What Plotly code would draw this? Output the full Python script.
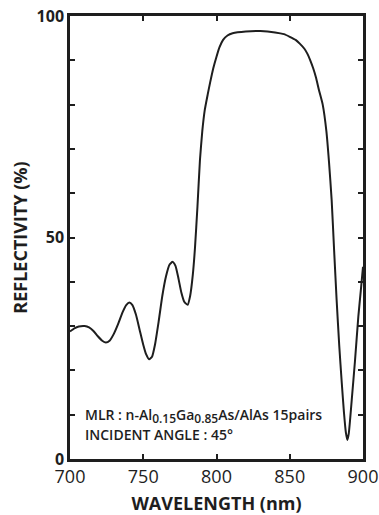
import plotly.graph_objects as go

wavelength_nm = [700, 703, 706, 710, 713, 716, 719, 722, 724.5, 727, 730, 733, 736, 738.5, 740.5,
                 742.5, 745, 747.5, 750, 752, 754, 756, 758, 760.5, 763, 765.5, 768, 770, 772,
                 774, 776, 778, 780.3, 782, 783.8, 785.3, 787, 788.7, 790.3, 792, 794, 795.6,
                 797.8, 800, 802, 804.5, 807.5, 811, 820, 830, 840, 846, 850, 854, 857, 860,
                 862, 864, 866, 868, 870, 872.5, 875, 876.8, 878.6, 880.3, 882, 883.8, 885.5,
                 887, 888.3, 889.3, 890.3, 891.3, 892.3, 894.5, 896.8, 898.5, 900]
reflectivity_pct = [28.8, 29.5, 29.9, 30.0, 29.7, 28.9, 27.7, 26.7, 26.3, 26.7, 28.3, 30.6, 33.2,
                    34.8, 35.3, 34.8, 32.6, 29.2, 25.8, 23.6, 22.5, 23.1, 25.8, 31.0, 36.8, 41.2,
                    43.9, 44.5, 43.6, 40.8, 37.6, 35.5, 34.8, 36.8, 41.5, 47.6, 57.0, 67.5, 74.0,
                    78.8, 82.3, 84.9, 88.2, 90.8, 92.9, 94.6, 95.6, 96.1, 96.5, 96.6, 96.3, 95.9,
                    95.3, 94.6, 93.7, 92.6, 91.5, 90.0, 88.2, 86.0, 83.2, 80.0, 74.0, 67.0, 58.5,
                    47.0, 35.9, 25.5, 17.2, 10.5, 6.0, 4.3, 5.8, 9.3, 13.3, 22.0, 32.1, 38.0, 43.4]

x_ticks = [700, 750, 800, 850, 900]
y_ticks = [0, 50, 100]
SUB = "<sub><span style='font-size:12px'>%s</span></sub>"
note_line1 = "MLR : n-Al" + SUB % "0.15" + "Ga" + SUB % "0.85" + "As/AlAs 15pairs"
note_line2 = "INCIDENT ANGLE : 45°"

FONT = "Open Sans"
INK = "#1e1e1e"

fig = go.Figure()
fig.add_trace(go.Scatter(
    x=wavelength_nm, y=reflectivity_pct, mode="lines",
    line=dict(color=INK, width=2, shape="spline", smoothing=0.5),
    showlegend=False, hoverinfo="skip",
))

fig.update_layout(
    width=379, height=515,
    margin=dict(l=70, r=16, t=16, b=56),
    paper_bgcolor="white", plot_bgcolor="white",
    font=dict(family=FONT, color=INK),
    xaxis=dict(
        range=[700, 900], tickvals=x_ticks, ticktext=[str(v) for v in x_ticks],
        ticks="inside", ticklen=5, tickwidth=2, tickcolor=INK,
        showline=True, linewidth=2.5, linecolor=INK, mirror="ticks",
        showgrid=False, zeroline=False, automargin=False,
        tickfont=dict(family=FONT, size=18, color=INK),
        title=dict(text="<b>WAVELENGTH (nm)</b>", font=dict(family=FONT, size=18, color=INK),
                   standoff=12),
    ),
    yaxis=dict(
        range=[0, 100], tickvals=y_ticks, ticktext=["<b>%d</b>" % v for v in y_ticks],
        ticks="inside", ticklen=5, tickwidth=2, tickcolor=INK,
        minor=dict(dtick=10, ticks="inside", ticklen=5, tickwidth=2, tickcolor=INK,
                   showgrid=False),
        showline=True, linewidth=2.5, linecolor=INK, mirror="ticks",
        showgrid=False, zeroline=False, automargin=False,
        tickfont=dict(family=FONT, size=16, color=INK),
        title=dict(text="<b>REFLECTIVITY (%)</b>", font=dict(family=FONT, size=18, color=INK),
                   standoff=5),
    ),
)

for txt, yp in [(note_line1, 0.097), (note_line2, 0.056)]:
    fig.add_annotation(
        xref="paper", yref="paper", x=0.044, y=yp, xanchor="left", yanchor="middle",
        align="left", showarrow=False, text=txt,
        font=dict(family=FONT, size=14, color=INK, weight=600),
    )

fig.write_html(
    "out.html",
    config={"displayModeBar": False},
    post_script="document.body.style.margin='0';document.body.style.overflow='hidden';",
)
